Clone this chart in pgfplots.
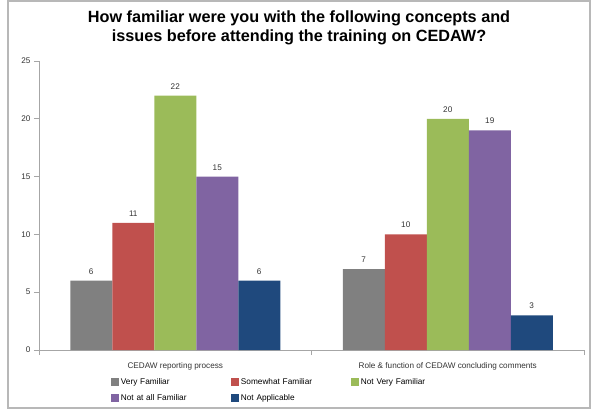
\documentclass[border=0pt]{standalone}
\usepackage{pgfplots}
\pgfplotsset{compat=1.18}
\usepackage{fontspec}
\setmainfont{Liberation Sans}

\definecolor{cGray}{HTML}{808080}
\definecolor{cRed}{HTML}{C0504D}
\definecolor{cGreen}{HTML}{9BBB59}
\definecolor{cPurple}{HTML}{8064A2}
\definecolor{cBlue}{HTML}{1F497D}
\definecolor{axisgray}{HTML}{A6A6A6}

\begin{document}
\begin{tikzpicture}[x=1bp,y=1bp]
\useasboundingbox (0,0) rectangle (592,409);
\draw[axisgray!80, line width=1.2bp] (8,1) rectangle (590,408);
\node[font=\bfseries\fontsize{16.3}{19}\selectfont, align=center] at (299,381)
  {How familiar were you with the following concepts and\\issues before attending the training on CEDAW?};
\begin{axis}[
  at={(39bp,59bp)}, anchor=south west,
  scale only axis, width=545bp, height=289bp,
  ybar=0pt, bar width=42bp,
  xmin=-0.5, xmax=1.5, ymin=0, ymax=25,
  axis lines*=left,
  axis line style={axisgray, line width=0.8bp},
  tick style={axisgray, line width=0.8bp},
  ytick={0,5,...,25},
  xtick={-0.5,0.5,1.5}, xticklabels={},
  extra x ticks={0,1},
  extra x tick labels={CEDAW reporting process, Role \& function of CEDAW concluding comments},
  extra x tick style={major tick length=0pt, xticklabel style={yshift=-9bp}},
  major tick length=5bp,
  tick align=outside,
  xtick pos=bottom, ytick pos=left,
  ticklabel style={font=\fontsize{8.2}{9}\selectfont, text=black!80},
  /pgf/number format/assume math mode=true,
  nodes near coords,
  every node near coord/.append style={font=\fontsize{8.2}{9}\selectfont, text=black!80, yshift=3bp},
  legend columns=3,
  legend style={at={(0.127,-0.085)}, anchor=north west, draw=none, fill=none,
    font=\fontsize{8.3}{10}\selectfont, row sep=6bp,
    nodes={text width=109bp, align=left, inner xsep=1.5bp, inner ysep=1.5bp}},
  legend image code/.code={\fill[#1] (0bp,-4bp) rectangle (8bp,4bp);},
]
\addplot[fill=cGray, draw=none] coordinates {(0,6) (1,7)};
\addplot[fill=cRed, draw=none] coordinates {(0,11) (1,10)};
\addplot[fill=cGreen, draw=none] coordinates {(0,22) (1,20)};
\addplot[fill=cPurple, draw=none] coordinates {(0,15) (1,19)};
\addplot[fill=cBlue, draw=none] coordinates {(0,6) (1,3)};
\legend{Very Familiar, Somewhat Familiar, Not Very Familiar, Not at all Familiar, Not Applicable}
\end{axis}
\end{tikzpicture}
\end{document}
